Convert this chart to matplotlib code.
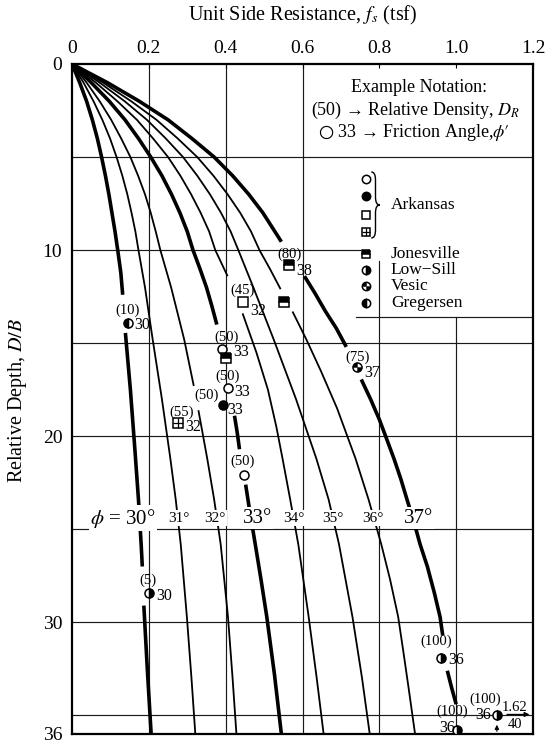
import numpy as np
import matplotlib.pyplot as plt
from matplotlib.path import Path
from matplotlib.patches import PathPatch

plt.rcParams['font.family'] = ['Liberation Serif', 'DejaVu Serif']
plt.rcParams['mathtext.fontset'] = 'stix'

# ---- friction angle curves: relative depth D/B and unit side resistance fs (tsf)
# nan marks a break in the printed line (labels / points sit in the gap)
nan = np.nan
phi_names = ['30°', '31°', '32°', '33°', '34°', '35°', '36°', '37°']
thick = [True, False, False, True, False, False, False, True]

depth_30 = [0, 1, 2, 3, 4, 5, 6, 7, 8, 9, 10, 11.2, 12.4, nan,
            14.45, 17.5, 20.8, 23.4, 25.8, 27.0, nan, 29.1, 32.5, 36]
fs_30 = [0, 0.02, 0.038, 0.053, 0.066, 0.077, 0.087, 0.096, 0.104, 0.112, 0.119, 0.127, 0.132, nan,
         0.139, 0.152, 0.164, 0.173, 0.18, 0.183, nan, 0.187, 0.196, 0.206]

depth_31 = [0, 1, 2, 3, 4, 5, 6, 7, 8, 9, 10, 12, 14.8, 18, 21.2, 23.4, 25.8, 29.7, 33, 36]
fs_31 = [0, 0.03, 0.056, 0.079, 0.099, 0.116, 0.131, 0.144, 0.155, 0.165, 0.173, 0.19, 0.21, 0.234,
         0.256, 0.27, 0.283, 0.299, 0.311, 0.321]

depth_32 = [0, 1, 2, 3, 4, 5, 6, 7, 8, 9, 10, 12, 14.8, 17.3, nan,
            18.6, 21.2, 23.4, 25.8, 29.7, 33, 36]
fs_32 = [0, 0.038, 0.072, 0.102, 0.128, 0.152, 0.172, 0.19, 0.205, 0.218, 0.23, 0.258, 0.292, 0.317, nan,
         0.329, 0.352, 0.37, 0.387, 0.406, 0.418, 0.428]

depth_33 = [0, 1, 2, 3, 4, 5, 6, 7, 8, 9, 10, 11, 12, 13, 14, nan,
            18.9, 19.8, 20.7, nan, 22.6, 24.2, 25.8, 27.7, 29.7, 32.8, 36]
fs_33 = [0, 0.05, 0.097, 0.138, 0.173, 0.205, 0.234, 0.259, 0.281, 0.3, 0.315, 0.333, 0.35, 0.364, 0.377, nan,
         0.423, 0.43, 0.436, nan, 0.452, 0.464, 0.477, 0.492, 0.507, 0.527, 0.545]

depth_34 = [0, 1, 2, 3, 4, 5, 6, 7, 8, 9, 10, 11.4, nan,
            13.4, 15.5, 17.5, 19.5, 21.2, 23.4, 25.8, 29.7, 33, 36]
fs_34 = [0, 0.062, 0.118, 0.169, 0.211, 0.25, 0.282, 0.31, 0.335, 0.357, 0.373, 0.405, nan,
         0.444, 0.48, 0.51, 0.532, 0.548, 0.568, 0.589, 0.616, 0.637, 0.655]

depth_35 = [0, 1, 2, 3, 4, 5, 6, 7, 8, 9, 10, 12, 14.8, 18, 21.2, 23.4, 25.8, 29.7, 33, 36]
fs_35 = [0, 0.072, 0.137, 0.195, 0.244, 0.289, 0.326, 0.359, 0.388, 0.413, 0.433, 0.472, 0.525, 0.583,
         0.636, 0.668, 0.695, 0.73, 0.755, 0.775]

depth_36 = [0, 1, 2, 3, 4, 5, 6, 7, 8, 9, 10, 11, 12.1, nan,
            13.3, 14.8, 16.5, 18.5, 21.2, 23.4, 25.8, 27.7, 29.7, 31.5, 33.5, 36]
fs_36 = [0, 0.081, 0.154, 0.22, 0.275, 0.326, 0.368, 0.405, 0.438, 0.466, 0.488, 0.515, 0.543, nan,
         0.574, 0.61, 0.648, 0.69, 0.738, 0.772, 0.805, 0.828, 0.849, 0.862, 0.876, 0.893]

depth_37 = [0, 1, 2, 3, 4, 5, 6, 7, 8, 9, 9.55, nan,
            11.4, 12.3, 13.3, 14.2, 15.2, nan,
            16.95, 18, 19.1, 20.2, 21.2, 22.3, 23.4, 24.6, 25.8, 27, 28.4, 29.7, 30.7, nan,
            32.6, 33.5, 34.4]
fs_37 = [0, 0.092, 0.175, 0.25, 0.312, 0.37, 0.418, 0.46, 0.497, 0.528, 0.545, nan,
         0.605, 0.632, 0.66, 0.688, 0.714, nan,
         0.753, 0.777, 0.80, 0.82, 0.838, 0.856, 0.872, 0.89, 0.906, 0.925, 0.943, 0.958, 0.965, nan,
         0.977, 0.988, 1.0]

curve_depths = [depth_30, depth_31, depth_32, depth_33, depth_34, depth_35, depth_36, depth_37]
curve_fs = [fs_30, fs_31, fs_32, fs_33, fs_34, fs_35, fs_36, fs_37]

# centres of the phi labels along the row at D/B ~ 24.4
phi_label_x = [0.133, 0.277, 0.373, 0.482, 0.577, 0.68, 0.782, 0.902]

# ---- field test points
pt_site = ['jonesville', 'ark_square', 'jonesville', 'gregersen', 'ark_open', 'jonesville',
           'ark_open', 'ark_filled', 'ark_grid', 'vesic', 'ark_open', 'lowsill',
           'lowsill', 'lowsill', 'lowsill']
pt_fs = [0.566, 0.445, 0.553, 0.145, 0.39, 0.402, 0.405, 0.392, 0.275, 0.743, 0.447, 0.20,
         0.96, 1.003, 1.106]
pt_depth = [10.8, 12.8, 12.8, 13.9, 15.3, 15.8, 17.4, 18.3, 19.3, 16.3, 22.1, 28.4,
            31.9, 35.8, 35.0]
pt_dr = ['(80)', '(45)', '', '(10)', '(50)', '', '(50)', '(50)', '(55)', '(75)', '(50)', '(5)',
         '(100)', '(100)', '(100)']
pt_phi = ['38', '32', '', '30', '33', '', '33', '33', '32', '37', '', '30', '36', '36', '36']

# label offsets in points (layout only)
dr_off = [(0, 7.5), (0, 8.5), None, (0, 9), (3.5, 8.5), None, (0, 8), (-11.5, 7), (3, 8), (0, 7.5),
          (-1, 10), (-1, 9), (-3.5, 12), (-3.5, 13.5), (-8.5, 11.5)]
phi_off = [(5, -4), (5, -6), None, (5, -2), (8.5, -2.5), None, (5, -3), (3.5, -4), (5.5, -3),
           (5, -4), None, (5.5, -2.5), (5.5, -2), (-2, 1.5), (-4, 0.5)]

legend_sites = ['ark_open', 'ark_filled', 'ark_square', 'ark_grid', 'jonesville', 'lowsill', 'vesic', 'gregersen']
legend_depth = [6.2, 7.1, 8.1, 9.0, 10.2, 11.05, 11.95, 12.85]
legend_names = ['Jonesville', 'Low\u2212Sill', 'Vesic', 'Gregersen']


def quarter(a0):
    t = np.linspace(np.radians(a0), np.radians(a0 + 90), 12)
    return np.vstack([[0, 0], np.column_stack([np.cos(t), np.sin(t)]), [0, 0]])


def draw_marker(ax, x, d, kind, ms=6.5, z=6, clip=True):
    kw = dict(ms=ms, mec='k', mew=1.1, ls='none', zorder=z, clip_on=clip)
    if kind == 'ark_open':
        ax.plot(x, d, 'o', mfc='white', **kw)
    elif kind == 'ark_filled':
        ax.plot(x, d, 'o', mfc='k', **kw)
    elif kind == 'ark_square':
        ax.plot(x, d, 's', mfc='white', **kw)
    elif kind == 'ark_grid':
        ax.plot(x, d, 's', mfc='white', **kw)
        ax.plot(x, d, '+', ms=ms, mec='k', mew=0.9, ls='none', zorder=z + 0.1, clip_on=clip)
    elif kind == 'jonesville':
        ax.plot(x, d, 's', fillstyle='top', mfc='k', mfcalt='white', **kw)
    elif kind == 'lowsill':
        ax.plot(x, d, 'o', fillstyle='right', mfc='k', mfcalt='white', **kw)
    elif kind == 'gregersen':
        ax.plot(x, d, 'o', fillstyle='left', mfc='k', mfcalt='white', **kw)
    elif kind == 'vesic':
        ax.plot(x, d, 'o', mfc='white', **kw)
        for a0 in (90, 270):
            ax.plot(x, d, marker=quarter(a0), ms=ms, mfc='k', mec='k', mew=0.3, ls='none',
                    zorder=z + 0.1, clip_on=clip)


fig = plt.figure(figsize=(5.46, 7.44), dpi=100)
ax = fig.add_axes([72 / 546, 1 - 734 / 744, (533 - 72) / 546, (734 - 64) / 744])
ax.set_xlim(0, 1.2)
ax.set_ylim(36, 0)

# grid, drawn as the printed segments
grid_kw = dict(color='#1a1a1a', lw=0.85, zorder=1)
for gx, d0, d1 in [(0.2, 0, 36), (0.4, 0, 36), (0.6, 0, 36), (0.8, 10.6, 36), (1.0, 13.6, 36)]:
    ax.plot([gx, gx], [d0, d1], **grid_kw)
for gd, x0, x1 in [(5, 0, 1.2), (10, 0, 0.75), (13.6, 0.74, 1.2), (15, 0, 1.2), (20, 0, 1.2),
                   (25, 0, 1.2), (30, 0, 1.2), (35, 0, 1.2)]:
    ax.plot([x0, x1], [gd, gd], **grid_kw)

# friction angle curves
for d, f, tk in zip(curve_depths, curve_fs, thick):
    ax.plot(f, d, color='k', lw=2.6 if tk else 1.3, solid_capstyle='butt',
            solid_joinstyle='round', zorder=3)

# phi labels across the curves
for i, (name, lx) in enumerate(zip(phi_names, phi_label_x)):
    txt = r'$\phi$ = ' + name if i == 0 else name
    ax.text(lx, 24.4, txt, ha='center', va='center', fontsize=15 if thick[i] else 11,
            bbox=dict(facecolor='white', edgecolor='none', pad=1.0), zorder=4)

# field points and their labels
for i in range(len(pt_fs)):
    draw_marker(ax, pt_fs[i], pt_depth[i], pt_site[i])
    if pt_dr[i]:
        ax.annotate(pt_dr[i], (pt_fs[i], pt_depth[i]), xytext=dr_off[i], textcoords='offset points',
                    ha='center', va='center', fontsize=10.5, zorder=7, annotation_clip=False)
    if pt_phi[i]:
        ha = 'right' if phi_off[i][0] < 0 else 'left'
        ax.annotate(pt_phi[i], (pt_fs[i], pt_depth[i]), xytext=phi_off[i], textcoords='offset points',
                    ha=ha, va='center', fontsize=11.5, zorder=7, annotation_clip=False)

# off-scale point note
ax.text(1.153, 34.55, '1.62', ha='center', va='center', fontsize=10.5)
ax.text(1.153, 35.5, '40', ha='center', va='center', fontsize=10.5)
ax.annotate('', xy=(1.198, 34.95), xytext=(1.125, 34.95),
            arrowprops=dict(arrowstyle='-|>', color='k', lw=0.9, mutation_scale=7))
ax.annotate('', xy=(1.106, 35.35), xytext=(1.106, 36),
            arrowprops=dict(arrowstyle='-|>', color='k', lw=0.9, mutation_scale=6))

# notation box
ax.text(0.904, 1.27, 'Example Notation:', ha='center', va='center', fontsize=13)
ax.text(0.895, 2.5, '(50) \u2192 Relative Density, $D_R$', ha='center', va='center', fontsize=13)
ax.text(0.89, 3.7, '$\\bigcirc$ 33 \u2192 Friction Angle,$\\phi\u2032$', ha='center', va='center',
        fontsize=13)

# site legend
for kind, ld in zip(legend_sites, legend_depth):
    draw_marker(ax, 0.765, ld, kind, ms=6)
ax.text(0.83, 7.6, 'Arkansas', ha='left', va='center', fontsize=12.5)
for name, ld in zip(legend_names, legend_depth[4:]):
    ax.text(0.83, ld, name, ha='left', va='center', fontsize=12.5)

# curly brace round the Arkansas markers
bx, bw, b0, b1 = 0.779, 0.022, 5.8, 9.35
bm, bh = (b0 + b1) / 2, (b1 - b0) * 0.12
verts = [(bx, b0), (bx + bw / 2, b0), (bx + bw / 2, b0 + bh), (bx + bw / 2, bm - bh),
         (bx + bw / 2, bm), (bx + bw, bm),
         (bx + bw / 2, bm), (bx + bw / 2, bm + bh), (bx + bw / 2, b1 - bh),
         (bx + bw / 2, b1), (bx, b1)]
codes = [Path.MOVETO, Path.CURVE3, Path.CURVE3, Path.LINETO, Path.CURVE3, Path.CURVE3,
         Path.CURVE3, Path.CURVE3, Path.LINETO, Path.CURVE3, Path.CURVE3]
ax.add_patch(PathPatch(Path(verts, codes), facecolor='none', edgecolor='k', lw=1.0))

# axes styling
ax.xaxis.tick_top()
ax.set_xticks([0, 0.2, 0.4, 0.6, 0.8, 1.0, 1.2])
ax.set_xticklabels(['0', '0.2', '0.4', '0.6', '0.8', '1.0', '1.2'])
ax.set_yticks([0, 10, 20, 30, 36])
ax.set_yticklabels(['0', '10', '20', '30', '36'])
ax.tick_params(axis='x', direction='in', length=3, pad=5, labelsize=14)
ax.tick_params(axis='y', length=0, pad=7, labelsize=14)
for sp in ax.spines.values():
    sp.set_linewidth(1.6)

fig.text(0.5 * (72 + 533) / 546, 1 - 15 / 744, 'Unit Side Resistance, $f_s$ (tsf)',
         ha='center', va='center', fontsize=14.5)
fig.text(18 / 546, 1 - 400 / 744, 'Relative Depth, $D/B$', rotation=90,
         ha='center', va='center', fontsize=14.5)

fig.savefig('out.png', dpi=100)
